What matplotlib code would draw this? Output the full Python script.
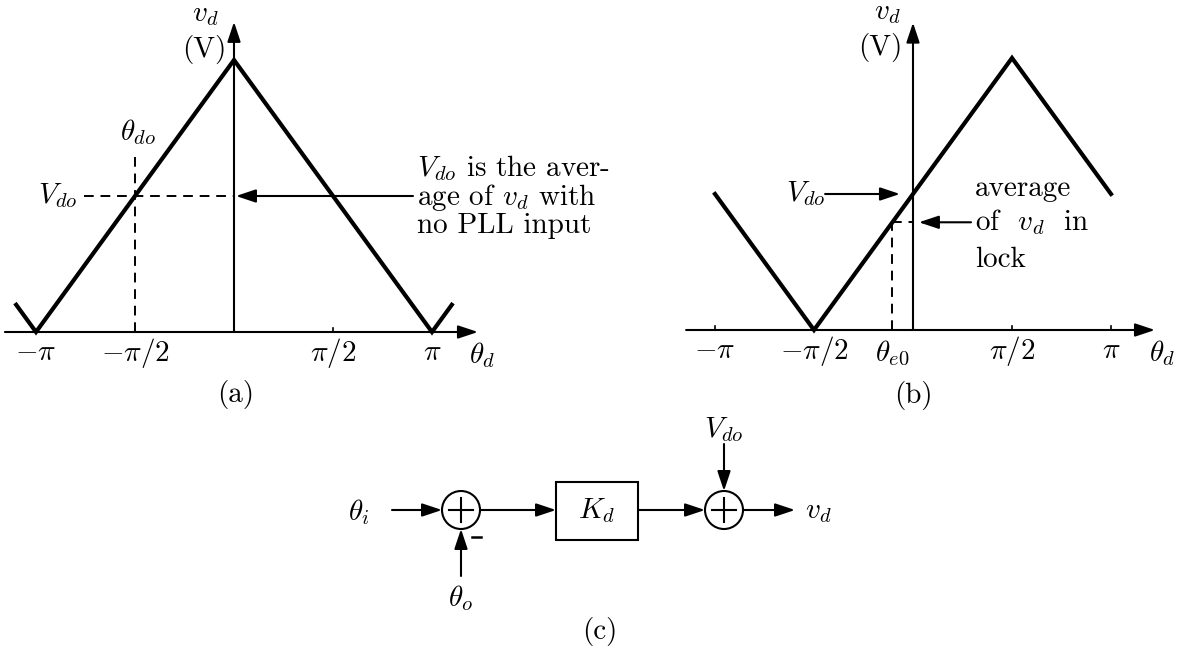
import matplotlib.pyplot as plt
from matplotlib.patches import Circle, Rectangle

plt.rcParams['font.family'] = 'serif'
plt.rcParams['font.serif'] = ['cmr10', 'DejaVu Serif']
plt.rcParams['mathtext.fontset'] = 'cm'
plt.rcParams['axes.formatter.use_mathtext'] = True

# phase in units of pi, detector output as a fraction of its peak
theta_a = [-1.1, -1.0, 0.0, 1.0, 1.1]
vd_a = [0.1, 0.0, 1.0, 0.0, 0.1]
theta_b = [-1.0, -0.5, 0.5, 1.0]
vd_b = [0.5, 0.0, 1.0, 0.5]
tick_pos = [-1.0, -0.5, 0.5, 1.0]
tick_lbl = [r'$-\pi$', r'$-\pi/2$', r'$\pi/2$', r'$\pi$']
v_do = 0.5
theta_do = -0.5
theta_e0 = -0.104
v_lock = v_do + theta_e0   # rising edge: +1 per pi

W, H = 1180, 660
FS = 21
LW = 3.0
DASH = (0, (5, 3.5))

fig = plt.figure(figsize=(W / 100, H / 100), dpi=100)


def panel(box, origin, sx, sy):
    # axes placed by pixel box, origin/scale give data units
    x0, y0, x1, y1 = box
    ax = fig.add_axes([x0 / W, 1 - y1 / H, (x1 - x0) / W, (y1 - y0) / H])
    ax.set_xlim((x0 - origin[0]) / sx, (x1 - origin[0]) / sx)
    ax.set_ylim((origin[1] - y1) / sy, (origin[1] - y0) / sy)
    ax.axis('off')
    return ax


def arrow(ax, start, end, lw=1.5):
    ax.annotate('', xy=end, xytext=start,
                arrowprops=dict(arrowstyle='-|>,head_length=0.6,head_width=0.2',
                                mutation_scale=20, color='k', lw=lw,
                                shrinkA=0, shrinkB=0))


def axes_frame(ax, xmin, xmax, ytop, ticks):
    arrow(ax, (xmin, 0), (xmax, 0))
    arrow(ax, (0, 0), (0, ytop))
    for t in ticks:
        ax.plot([t, t], [0, 0.015], color='k', lw=1.2)


# ---- (a) free-running detector characteristic
axa = panel((0, 0, 590, 420), (234, 332), 198, 272)
axes_frame(axa, -1.157, 1.232, 1.14, [0.5])
axa.plot(theta_a, vd_a, color='k', lw=LW, solid_joinstyle='miter')
for t, s in zip(tick_pos, tick_lbl):
    axa.text(t, -0.077, s, fontsize=FS, ha='center', va='center')
axa.text(1.255, -0.085, r'$\theta_d$', fontsize=FS, ha='center', va='center')
axa.text(-0.146, 1.165, r'$v_d$', fontsize=FS, ha='center', va='center')
axa.text(-0.15, 1.04, '(V)', fontsize=FS, ha='center', va='center')
axa.plot([theta_do, theta_do], [0, 0.66], color='k', lw=1.4, ls=DASH)
axa.plot([-0.76, 0], [v_do, v_do], color='k', lw=1.4, ls=DASH)
axa.text(theta_do + 0.015, 0.735, r'$\theta_{do}$', fontsize=FS, ha='center', va='center')
axa.text(-0.79, v_do, r'$V_{do}$', fontsize=FS, ha='right', va='center')
arrow(axa, (0.904, v_do), (0.01, v_do))
axa.text(0.924, 0.603, r'$V_{do}$ is the aver-', fontsize=FS, ha='left', va='center')
axa.text(0.924, 0.496, r'age of $v_d$ with', fontsize=FS, ha='left', va='center')
axa.text(0.924, 0.39, 'no PLL input', fontsize=FS, ha='left', va='center')
axa.text(0.01, -0.23, '(a)', fontsize=FS, ha='center', va='center')

# ---- (b) characteristic while in lock
axb = panel((590, 0, 1180, 420), (913, 330), 198, 272)
axes_frame(axb, -1.146, 1.222, 1.13, [-1.0, 0.5, 1.0])
axb.plot(theta_b, vd_b, color='k', lw=LW, solid_joinstyle='miter')
for t, s in zip(tick_pos, tick_lbl):
    axb.text(t, -0.077, s, fontsize=FS, ha='center', va='center')
axb.text(theta_e0, -0.085, r'$\theta_{e0}$', fontsize=FS, ha='center', va='center')
axb.text(1.26, -0.085, r'$\theta_d$', fontsize=FS, ha='center', va='center')
axb.text(-0.131, 1.165, r'$v_d$', fontsize=FS, ha='center', va='center')
axb.text(-0.167, 1.04, '(V)', fontsize=FS, ha='center', va='center')
axb.plot([theta_e0, theta_e0], [0, v_lock], color='k', lw=1.4, ls=DASH)
axb.plot([theta_e0, 0], [v_lock, v_lock], color='k', lw=1.4, ls=DASH)
axb.text(-0.444, v_do, r'$V_{do}$', fontsize=FS, ha='right', va='center')
arrow(axb, (-0.444, v_do), (-0.066, v_do))
arrow(axb, (0.293, v_lock), (0.03, v_lock))
axb.text(0.313, 0.52, 'average', fontsize=FS, ha='left', va='center')
axb.text(0.313, v_lock, r'of  $v_d$  in', fontsize=FS, ha='left', va='center')
axb.text(0.313, 0.257, 'lock', fontsize=FS, ha='left', va='center')
axb.text(0.0, -0.24, '(b)', fontsize=FS, ha='center', va='center')

# ---- (c) linear model of the detector
axc = fig.add_axes([0, 0, 1, 260 / H])
axc.set_xlim(0, W)
axc.set_ylim(660, 400)
axc.axis('off')

yl = 510
r = 19
s1, s2 = 461, 724
for sx in (s1, s2):
    axc.add_patch(Circle((sx, yl), r, fill=False, ec='k', lw=1.5))
    axc.plot([sx - 12, sx + 12], [yl, yl], color='k', lw=1.5)
    axc.plot([sx, sx], [yl - 12, yl + 12], color='k', lw=1.5)
axc.add_patch(Rectangle((556, 482), 82, 58, fill=False, ec='k', lw=1.5))
axc.text(597, yl + 1, r'$K_d$', fontsize=FS, ha='center', va='center')

axc.text(359, yl + 2, r'$\theta_i$', fontsize=FS, ha='center', va='center')
arrow(axc, (392, yl), (s1 - r, yl))
arrow(axc, (s1 + r, yl), (556, yl))
arrow(axc, (638, yl), (s2 - r, yl))
arrow(axc, (s2 + r, yl), (795, yl))
axc.text(818, yl + 2, r'$v_d$', fontsize=FS, ha='center', va='center')
axc.text(s2, 430, r'$V_{do}$', fontsize=FS, ha='center', va='center')
arrow(axc, (s2, 444), (s2, yl - r))
arrow(axc, (s1, 576), (s1, yl + r))
axc.plot([472, 481], [537, 537], color='k', lw=1.8)
axc.text(s1, 598, r'$\theta_o$', fontsize=FS, ha='center', va='center')
axc.text(600, 632, '(c)', fontsize=FS, ha='center', va='center')

fig.savefig('out.png', dpi=100)
